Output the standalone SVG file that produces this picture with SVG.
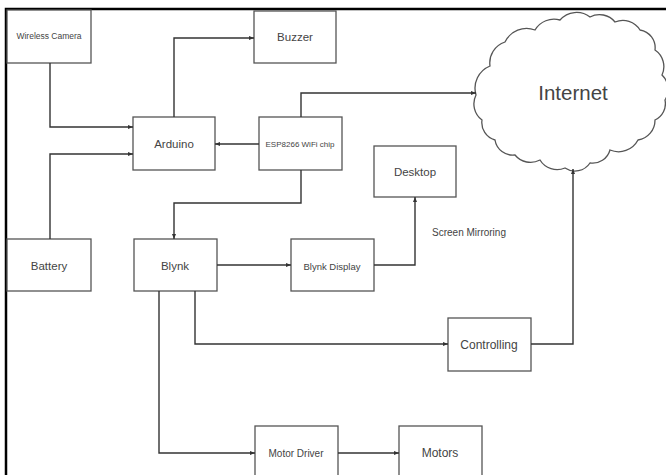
<svg xmlns="http://www.w3.org/2000/svg" width="666" height="475" viewBox="0 0 666 475">
<defs>
<marker id="arr" viewBox="0 0 10 10" refX="10" refY="5" markerWidth="5" markerHeight="5" orient="auto" markerUnits="userSpaceOnUse">
<path d="M0,1 L10,5 L0,9 Z" fill="#333"/>
</marker>
<style>
.box{fill:#fff;stroke:#555;stroke-width:1.3}
.t{font-family:"Liberation Sans",Arial,sans-serif;fill:#444;text-anchor:middle;dominant-baseline:central}
.c{fill:none;stroke:#333;stroke-width:1.4;marker-end:url(#arr)}
</style>
</defs>
<rect width="666" height="475" fill="#fff"/>
<path d="M6,475 V9 H666" fill="none" stroke="#000" stroke-width="2.5"/>

<g id="cloud">
<path class="box" d="M476,95 A24,24 0 0 1 490,66 A22,22 0 0 1 505,42 A24,24 0 0 1 535,30 A22,22 0 0 1 560,20 A22,22 0 0 1 590,17 A20,20 0 0 1 615,22 A20,20 0 0 1 640,30 A18,18 0 0 1 655,50 A20,20 0 0 1 662,75 A20,20 0 0 1 665,100 A18,18 0 0 1 655,120 A20,20 0 0 1 638,140 A22,22 0 0 1 610,150 A18,18 0 0 1 590,163 A18,18 0 0 1 565,168 A20,20 0 0 1 540,160 A20,20 0 0 1 515,155 A18,18 0 0 1 495,140 A18,18 0 0 1 482,120 A20,20 0 0 1 476,95 Z"/>
<text class="t" x="573" y="92" font-size="20.5">Internet</text>
</g>

<g id="camera"><rect class="box" x="7" y="10" width="84" height="53"/><text class="t" x="49" y="36" font-size="8.5">Wireless Camera</text></g>
<g id="buzzer"><rect class="box" x="254" y="11" width="82" height="52"/><text class="t" x="295" y="37" font-size="11.5">Buzzer</text></g>
<g id="arduino"><rect class="box" x="133" y="117" width="82" height="53"/><text class="t" x="174" y="144" font-size="11.5">Arduino</text></g>
<g id="esp"><rect class="box" x="259" y="117" width="83" height="53"/><text class="t" x="300" y="144" font-size="8">ESP8266 WiFi chip</text></g>
<g id="desktop"><rect class="box" x="374" y="146" width="82" height="51"/><text class="t" x="415" y="172" font-size="11.5">Desktop</text></g>
<g id="battery"><rect class="box" x="7" y="239" width="84" height="52"/><text class="t" x="49" y="266" font-size="11.5">Battery</text></g>
<g id="blynk"><rect class="box" x="134" y="239" width="83" height="52"/><text class="t" x="175" y="266" font-size="11.5">Blynk</text></g>
<g id="blynkdisplay"><rect class="box" x="291" y="239" width="83" height="52"/><text class="t" x="332" y="266" font-size="9.5">Blynk Display</text></g>
<g id="controlling"><rect class="box" x="448" y="318" width="83" height="53"/><text class="t" x="489" y="345" font-size="12">Controlling</text></g>
<g id="motordriver"><rect class="box" x="255" y="426" width="83" height="60"/><text class="t" x="296" y="453" font-size="10">Motor Driver</text></g>
<g id="motors"><rect class="box" x="399" y="426" width="83" height="60"/><text class="t" x="440" y="453" font-size="12">Motors</text></g>

<text class="t" x="469" y="232" font-size="10">Screen Mirroring</text>

<g id="connectors">
<path class="c" d="M50,63 V127 H133"/>
<path class="c" d="M50,239 V154 H133"/>
<path class="c" d="M174,117 V38 H254"/>
<path class="c" d="M259,144 H215"/>
<path class="c" d="M301,117 V93 H476"/>
<path class="c" d="M301,170 V203 H174 V239"/>
<path class="c" d="M217,265 H291"/>
<path class="c" d="M374,265 H415 V197"/>
<path class="c" d="M195,291 V344 H448"/>
<path class="c" d="M531,344 H573 V169"/>
<path class="c" d="M159,291 V453 H255"/>
<path class="c" d="M338,453 H399"/>
</g>
</svg>
